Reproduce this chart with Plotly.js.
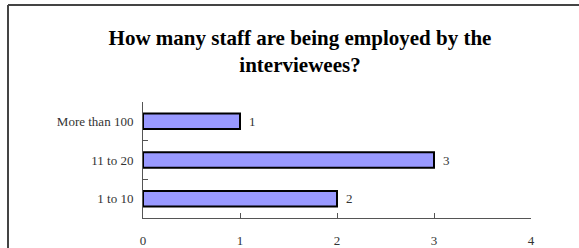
<!DOCTYPE html>
<html>
<head>
<meta charset="utf-8">
<script src="https://cdn.plot.ly/plotly-3.0.1.min.js"></script>
<style>html,body{margin:0;padding:0;background:#fff;}#chart{width:579px;height:248px;}</style>
</head>
<body>
<div id="chart"></div>
<script>
const categories = ["1 to 10", "11 to 20", "More than 100"];
const counts = [2, 3, 1];
const xTickValues = [0, 1, 2, 3, 4];
const titleText = "<b>How many staff are being employed by the<br>interviewees?</b>";

const W = 579, H = 248;
const m = {l: 143, r: 48, t: 102, b: 30};
const pw = W - m.l - m.r, ph = H - m.t - m.b;
const px = v => (v - m.l) / pw;
const py = v => (H - m.b - v) / ph;
const font = 'Liberation Serif';

const trace = {
  type: 'bar',
  orientation: 'h',
  y: categories,
  x: counts,
  marker: {color: '#9999FF', line: {color: '#000', width: 2}},
  width: 0.4,
  hoverinfo: 'none'
};

const valueLabels = counts.map((v, i) => ({
  x: v, y: categories[i], xref: 'x', yref: 'y',
  text: String(v), showarrow: false,
  xanchor: 'left', yanchor: 'middle', xshift: 7,
  font: {family: font, size: 13, color: '#333'}
}));

const layout = {
  width: W, height: H,
  margin: m,
  paper_bgcolor: '#fff', plot_bgcolor: '#fff',
  showlegend: false,
  title: {
    text: titleText,
    x: 300 / W, xref: 'container', xanchor: 'center',
    y: 1 - 45/H, yref: 'container', yanchor: 'middle',
    font: {family: font, size: 21, color: '#000'}
  },
  xaxis: {
    range: [0, 4],
    tickvals: xTickValues,
    ticks: 'inside', ticklen: 5, tickcolor: '#555', tickwidth: 1,
    showline: true, linecolor: '#555', linewidth: 1,
    showgrid: false, zeroline: false,
    tickfont: {family: font, size: 13, color: '#333'},
    ticklabelstandoff: 10
  },
  yaxis: {
    type: 'category',
    categoryorder: 'array', categoryarray: categories,
    range: [-0.5, 2.5],
    ticks: 'inside', ticklen: 5, tickcolor: '#555', tickwidth: 1,
    tickson: 'boundaries',
    showline: true, linecolor: '#555', linewidth: 1,
    showgrid: false, zeroline: false,
    tickfont: {family: font, size: 13, color: '#333'},
    ticklabelstandoff: 6
  },
  annotations: valueLabels,
  shapes: [
    {type: 'line', xref: 'paper', yref: 'paper', x0: px(8), x1: px(580), y0: py(5), y1: py(5), line: {color: '#444', width: 2}},
    {type: 'line', xref: 'paper', yref: 'paper', x0: px(8), x1: px(8), y0: py(5), y1: py(250), line: {color: '#444', width: 2}}
  ]
};

Plotly.newPlot('chart', [trace], layout, {displayModeBar: false, staticPlot: true});
</script>
</body>
</html>
